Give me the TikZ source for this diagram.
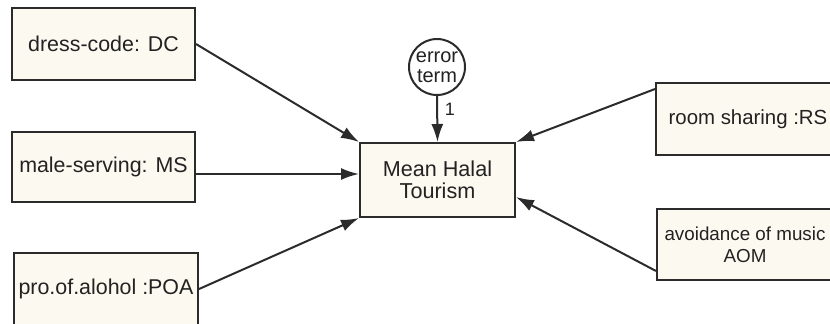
\documentclass[tikz,border=0pt]{standalone}
\usepackage{fontspec}
\setmainfont{Liberation Sans}
\usetikzlibrary{positioning, arrows.meta, calc}
\definecolor{boxFill}{HTML}{fcf9f0}
\definecolor{boxLine}{HTML}{2b2b2b}
\definecolor{txt}{HTML}{222222}
\begin{document}
\begin{tikzpicture}[x=0.5pt, y=-0.5pt,
  var/.style={draw=boxLine, fill=boxFill, line width=1pt, minimum width=91.5pt, minimum height=36pt, align=center, text=txt, font=\fontsize{10.7}{11}\selectfont, inner sep=1pt},
  err/.style={circle, draw=boxLine, fill=white, line width=1pt, minimum size=28pt, inner sep=0pt, align=center, text=txt, font=\fontsize{10}{10}\selectfont},
  path/.style={line width=1pt, draw=boxLine, -{Latex[length=9pt, width=6pt]}}]
\clip (0,0) rectangle (830,323);
% observed variables
\node[var] (dc) at (103.5,44) {dress-code: DC};
\node[var, minimum height=35pt] (ms) at (103.5,167) {male-serving: MS};
\node[var, minimum width=92pt] (poa) at (106,289) {pro.of.alohol :POA};
\node[var, minimum width=92pt, font=\fontsize{10.2}{11}\selectfont] (rs) at (748,119) {room sharing :RS};
\node[var, minimum width=88pt, minimum height=35.5pt, font=\fontsize{9.4}{11}\selectfont] (aom) at (745,244.5) {avoidance of music\\AOM};
% dependent variable and error
\node[var, minimum width=77.5pt, minimum height=37pt, font=\fontsize{10.8}{11}\selectfont] (mean) at (437.5,180) {Mean Halal\\Tourism};
\node[err] (e1) at (437,67) {error\\term};
% paths
\draw[path] (dc.east) -- (mean.north west);
\draw[path] ([yshift=-3.5pt]ms.east) -- ([yshift=-3.5pt]ms.east -| mean.west);
\draw[path] (poa.east) -- (mean.south west);
\draw[path] ([yshift=-3.5pt]rs.north west) -- (mean.north east);
\draw[path] ([yshift=5pt]aom.south west) -- ([yshift=-8.5pt]mean.east);
\draw[path] (e1.south) -- (mean.north) node[pos=0.3, right=0pt, text=txt, font=\fontsize{9}{9}\selectfont] {1};
\end{tikzpicture}
\end{document}
